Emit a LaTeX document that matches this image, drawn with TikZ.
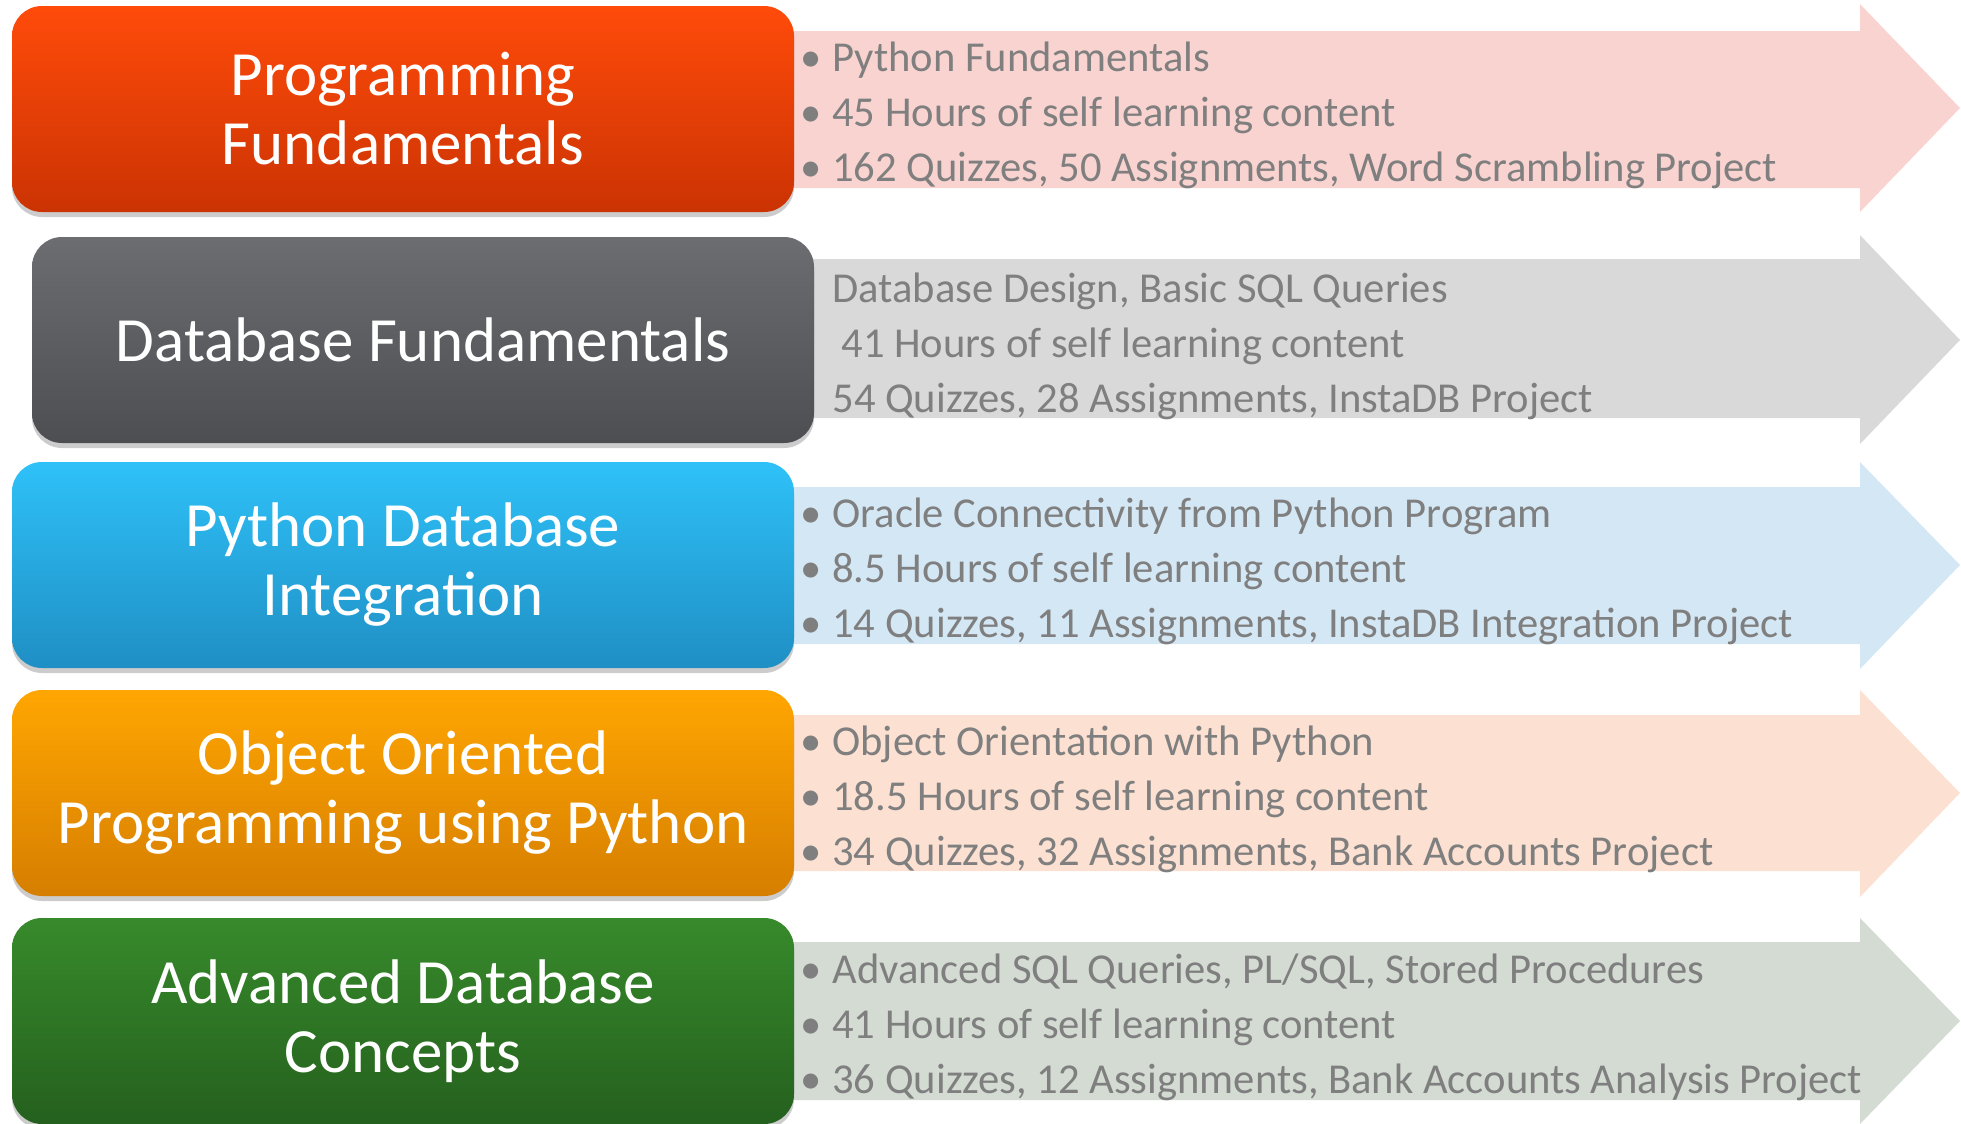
\documentclass[tikz,border=0pt]{standalone}
\usepackage{fontspec}
\setmainfont{Carlito}
\usetikzlibrary{shadows}
\definecolor{t1a}{HTML}{FF4B0A}\definecolor{t1b}{HTML}{CB3303}
\definecolor{t2a}{HTML}{6C6D71}\definecolor{t2b}{HTML}{4D4E52}
\definecolor{t3a}{HTML}{2EC1F8}\definecolor{t3b}{HTML}{1F8FC4}
\definecolor{t4a}{HTML}{FFA602}\definecolor{t4b}{HTML}{D67E00}
\definecolor{t5a}{HTML}{378A2B}\definecolor{t5b}{HTML}{25601E}
\definecolor{a1}{HTML}{F9D3D0}\definecolor{a2}{HTML}{D9D9D9}
\definecolor{a3}{HTML}{D4E7F5}\definecolor{a4}{HTML}{FCE1D2}
\definecolor{a5}{HTML}{D3DBD3}
\definecolor{txt}{HTML}{7F7F7F}
\newcommand{\bul}{\makebox[16pt][l]{•}}
\begin{document}
\begin{tikzpicture}[x=0.5pt,y=-0.5pt,
  titlebox/.style={rounded corners=15pt, minimum width=391pt, minimum height=103pt,
    inner sep=0pt, align=center, text=white,
    font=\fontsize{31.5}{34.5}\selectfont,
    drop shadow={shadow xshift=0pt, shadow yshift=-2.5pt, opacity=0.2, fill=black}},
  info/.style={anchor=west, align=left, inner sep=0pt, text=txt,
    font=\fontsize{21.3}{27.5}\selectfont}]
\useasboundingbox (0,0) rectangle (1961,1124);
% arrows
\fill[a1] (780,31) -- (1860,31) -- (1860,4) -- (1960,108) -- (1860,212) -- (1860,188) -- (780,188) -- cycle;
\fill[a2] (780,259) -- (1860,259) -- (1860,235) -- (1960,340) -- (1860,444) -- (1860,418) -- (780,418) -- cycle;
\fill[a3] (780,487) -- (1860,487) -- (1860,462) -- (1960,565) -- (1860,669) -- (1860,644) -- (780,644) -- cycle;
\fill[a4] (780,715) -- (1860,715) -- (1860,690) -- (1960,793) -- (1860,897) -- (1860,871) -- (780,871) -- cycle;
\fill[a5] (780,942) -- (1860,942) -- (1860,918) -- (1960,1021) -- (1860,1124) -- (1860,1100) -- (780,1100) -- cycle;
% title boxes
\node[titlebox, top color=t1a, bottom color=t1b] (b1) at (403,109) {Programming\\Fundamentals};
\node[titlebox, top color=t2a, bottom color=t2b] (b2) at (423,340) {Database Fundamentals};
\node[titlebox, top color=t3a, bottom color=t3b] (b3) at (403,565) {Python Database\\Integration};
\node[titlebox, top color=t4a, bottom color=t4b] (b4) at (403,793) {Object Oriented\\Programming using Python};
\node[titlebox, top color=t5a, bottom color=t5b] (b5) at (403,1021) {Advanced Database\\Concepts};
% info texts
\node[info] (i1) at (800,115) {\bul Python Fundamentals\\\bul 45 Hours of self learning content\\\bul 162 Quizzes, 50 Assignments, Word Scrambling Project};
\node[info] (i2) at (832,346) {Database Design, Basic SQL Queries\\\hspace{4.5pt}41 Hours of self learning content\\54 Quizzes, 28 Assignments, InstaDB Project};
\node[info] (i3) at (800,571) {\bul Oracle Connectivity from Python Program\\\bul 8.5 Hours of self learning content\\\bul 14 Quizzes, 11 Assignments, InstaDB Integration Project};
\node[info] (i4) at (800,799) {\bul Object Orientation with Python\\\bul 18.5 Hours of self learning content\\\bul 34 Quizzes, 32 Assignments, Bank Accounts Project};
\node[info] (i5) at (800,1027) {\bul Advanced SQL Queries, PL/SQL, Stored Procedures\\\bul 41 Hours of self learning content\\\bul 36 Quizzes, 12 Assignments, Bank Accounts Analysis Project};
\end{tikzpicture}
\end{document}
